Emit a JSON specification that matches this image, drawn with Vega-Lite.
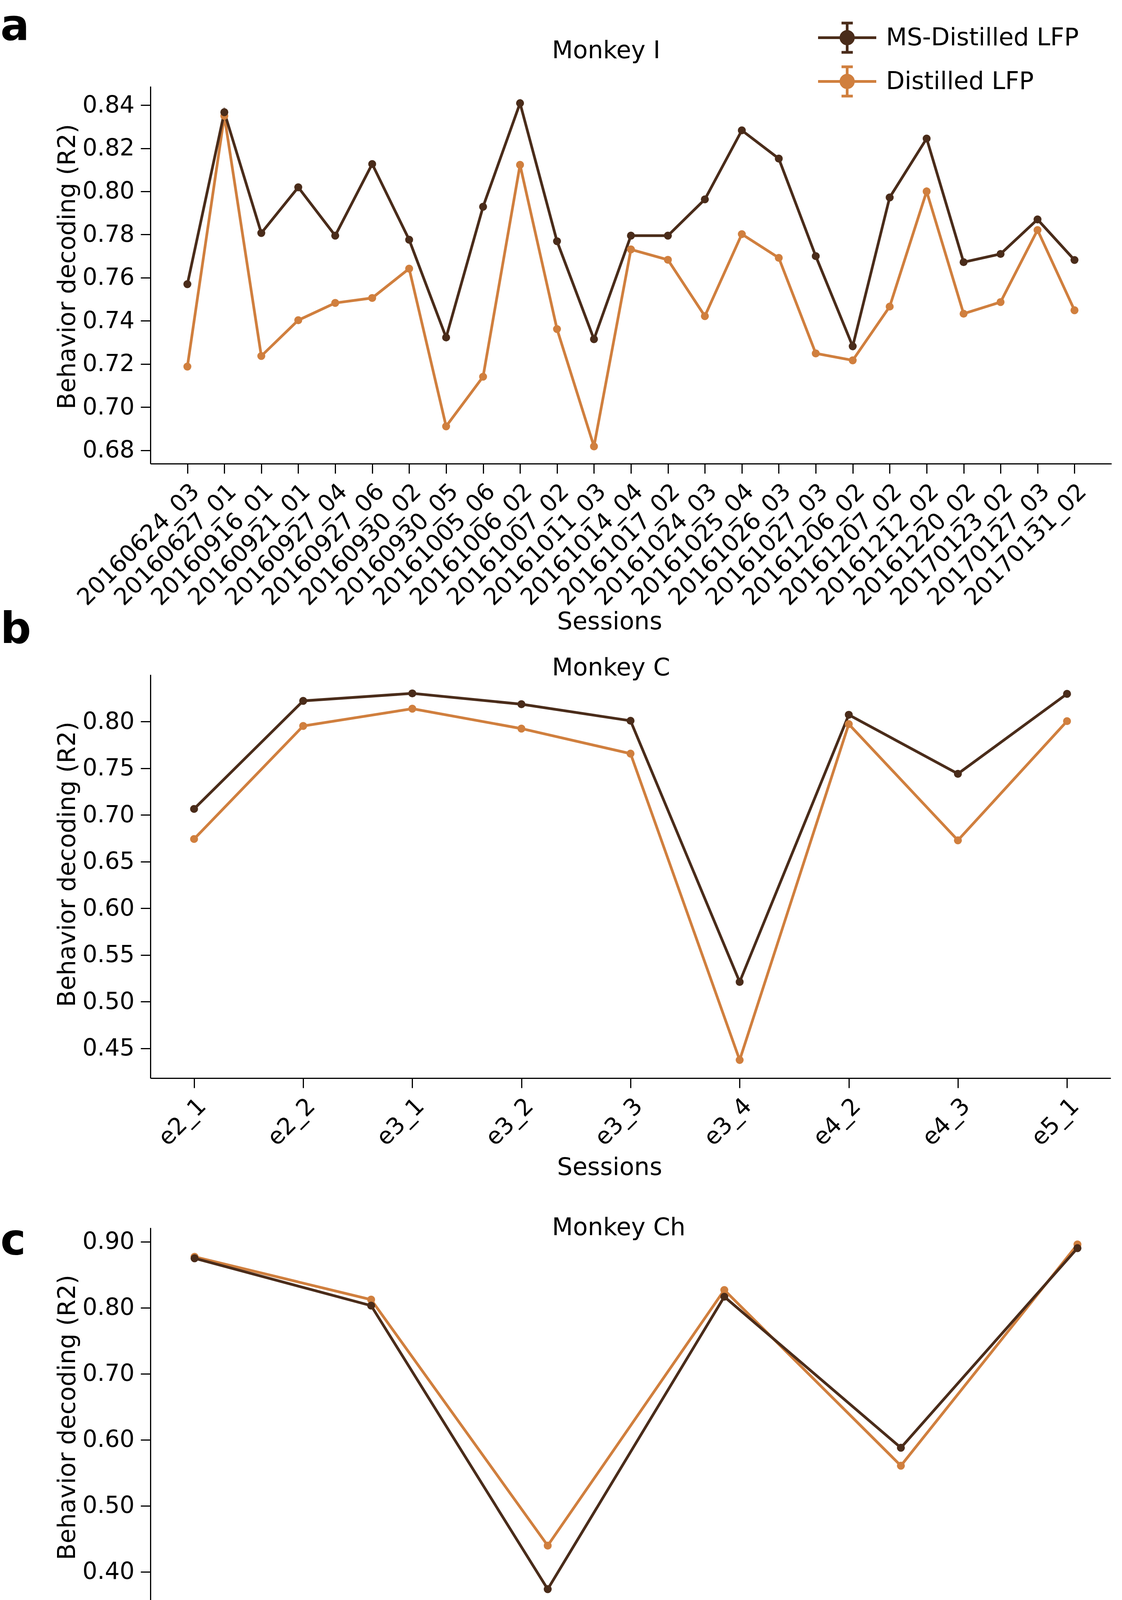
{
  "$schema": "https://vega.github.io/schema/vega-lite/v6.json",
  "background": "white",
  "padding": {"left": 0, "top": 14, "right": 0, "bottom": 17},
  "config": {
    "font": "DejaVu Sans",
    "view": {"stroke": null},
    "axis": {"domainColor": "black", "domainWidth": 3, "tickColor": "black", "tickWidth": 3, "tickSize": 25, "labelColor": "black", "labelFontSize": 60, "labelFont": "DejaVu Sans", "titleFont": "DejaVu Sans", "titleFontSize": 62, "titleFontWeight": "normal", "titleColor": "black", "grid": false, "labelPadding": 16, "labelLimit": 0},
    "axisY": {"titleX": -194, "titleBaseline": "alphabetic", "titleAlign": "center"},
    "title": {"font": "DejaVu Sans", "color": "black"}
  },
  "datasets": {
    "a": [
      {"session": "20160624_03", "series": "Distilled LFP", "r2": 0.7188},
      {"session": "20160627_01", "series": "Distilled LFP", "r2": 0.835},
      {"session": "20160916_01", "series": "Distilled LFP", "r2": 0.7237},
      {"session": "20160921_01", "series": "Distilled LFP", "r2": 0.7403},
      {"session": "20160927_04", "series": "Distilled LFP", "r2": 0.7483},
      {"session": "20160927_06", "series": "Distilled LFP", "r2": 0.7506},
      {"session": "20160930_02", "series": "Distilled LFP", "r2": 0.7642},
      {"session": "20160930_05", "series": "Distilled LFP", "r2": 0.6911},
      {"session": "20161005_06", "series": "Distilled LFP", "r2": 0.7141},
      {"session": "20161006_02", "series": "Distilled LFP", "r2": 0.8123},
      {"session": "20161007_02", "series": "Distilled LFP", "r2": 0.7362},
      {"session": "20161011_03", "series": "Distilled LFP", "r2": 0.6818},
      {"session": "20161014_04", "series": "Distilled LFP", "r2": 0.7731},
      {"session": "20161017_02", "series": "Distilled LFP", "r2": 0.7683},
      {"session": "20161024_03", "series": "Distilled LFP", "r2": 0.7422},
      {"session": "20161025_04", "series": "Distilled LFP", "r2": 0.7802},
      {"session": "20161026_03", "series": "Distilled LFP", "r2": 0.7692},
      {"session": "20161027_03", "series": "Distilled LFP", "r2": 0.7249},
      {"session": "20161206_02", "series": "Distilled LFP", "r2": 0.7217},
      {"session": "20161207_02", "series": "Distilled LFP", "r2": 0.7466},
      {"session": "20161212_02", "series": "Distilled LFP", "r2": 0.8},
      {"session": "20161220_02", "series": "Distilled LFP", "r2": 0.7433},
      {"session": "20170123_02", "series": "Distilled LFP", "r2": 0.7487},
      {"session": "20170127_03", "series": "Distilled LFP", "r2": 0.7821},
      {"session": "20170131_02", "series": "Distilled LFP", "r2": 0.7449},
      {"session": "20160624_03", "series": "MS-Distilled LFP", "r2": 0.757},
      {"session": "20160627_01", "series": "MS-Distilled LFP", "r2": 0.8367},
      {"session": "20160916_01", "series": "MS-Distilled LFP", "r2": 0.7807},
      {"session": "20160921_01", "series": "MS-Distilled LFP", "r2": 0.8019},
      {"session": "20160927_04", "series": "MS-Distilled LFP", "r2": 0.7795},
      {"session": "20160927_06", "series": "MS-Distilled LFP", "r2": 0.8127},
      {"session": "20160930_02", "series": "MS-Distilled LFP", "r2": 0.7776},
      {"session": "20160930_05", "series": "MS-Distilled LFP", "r2": 0.7323},
      {"session": "20161005_06", "series": "MS-Distilled LFP", "r2": 0.7929},
      {"session": "20161006_02", "series": "MS-Distilled LFP", "r2": 0.8409},
      {"session": "20161007_02", "series": "MS-Distilled LFP", "r2": 0.7769},
      {"session": "20161011_03", "series": "MS-Distilled LFP", "r2": 0.7315},
      {"session": "20161014_04", "series": "MS-Distilled LFP", "r2": 0.7795},
      {"session": "20161017_02", "series": "MS-Distilled LFP", "r2": 0.7795},
      {"session": "20161024_03", "series": "MS-Distilled LFP", "r2": 0.7963},
      {"session": "20161025_04", "series": "MS-Distilled LFP", "r2": 0.8283},
      {"session": "20161026_03", "series": "MS-Distilled LFP", "r2": 0.8152},
      {"session": "20161027_03", "series": "MS-Distilled LFP", "r2": 0.77},
      {"session": "20161206_02", "series": "MS-Distilled LFP", "r2": 0.7282},
      {"session": "20161207_02", "series": "MS-Distilled LFP", "r2": 0.7972},
      {"session": "20161212_02", "series": "MS-Distilled LFP", "r2": 0.8245},
      {"session": "20161220_02", "series": "MS-Distilled LFP", "r2": 0.7672},
      {"session": "20170123_02", "series": "MS-Distilled LFP", "r2": 0.771},
      {"session": "20170127_03", "series": "MS-Distilled LFP", "r2": 0.787},
      {"session": "20170131_02", "series": "MS-Distilled LFP", "r2": 0.7682}
    ],
    "b": [
      {"session": "e2_1", "series": "Distilled LFP", "r2": 0.6742},
      {"session": "e2_2", "series": "Distilled LFP", "r2": 0.7952},
      {"session": "e3_1", "series": "Distilled LFP", "r2": 0.8137},
      {"session": "e3_2", "series": "Distilled LFP", "r2": 0.7924},
      {"session": "e3_3", "series": "Distilled LFP", "r2": 0.7656},
      {"session": "e3_4", "series": "Distilled LFP", "r2": 0.4376},
      {"session": "e4_2", "series": "Distilled LFP", "r2": 0.7972},
      {"session": "e4_3", "series": "Distilled LFP", "r2": 0.6728},
      {"session": "e5_1", "series": "Distilled LFP", "r2": 0.8004},
      {"session": "e2_1", "series": "MS-Distilled LFP", "r2": 0.7064},
      {"session": "e2_2", "series": "MS-Distilled LFP", "r2": 0.8221},
      {"session": "e3_1", "series": "MS-Distilled LFP", "r2": 0.8301},
      {"session": "e3_2", "series": "MS-Distilled LFP", "r2": 0.8185},
      {"session": "e3_3", "series": "MS-Distilled LFP", "r2": 0.8008},
      {"session": "e3_4", "series": "MS-Distilled LFP", "r2": 0.5212},
      {"session": "e4_2", "series": "MS-Distilled LFP", "r2": 0.8072},
      {"session": "e4_3", "series": "MS-Distilled LFP", "r2": 0.744},
      {"session": "e5_1", "series": "MS-Distilled LFP", "r2": 0.8296}
    ],
    "c": [
      {"session": "20150313", "series": "Distilled LFP", "r2": 0.8772},
      {"session": "20150319", "series": "Distilled LFP", "r2": 0.8124},
      {"session": "20150629", "series": "Distilled LFP", "r2": 0.4398},
      {"session": "20150630", "series": "Distilled LFP", "r2": 0.827},
      {"session": "20161005", "series": "Distilled LFP", "r2": 0.5608},
      {"session": "20161014", "series": "Distilled LFP", "r2": 0.896},
      {"session": "20150313", "series": "MS-Distilled LFP", "r2": 0.875},
      {"session": "20150319", "series": "MS-Distilled LFP", "r2": 0.8033},
      {"session": "20150629", "series": "MS-Distilled LFP", "r2": 0.3738},
      {"session": "20150630", "series": "MS-Distilled LFP", "r2": 0.8168},
      {"session": "20161005", "series": "MS-Distilled LFP", "r2": 0.588},
      {"session": "20161014", "series": "MS-Distilled LFP", "r2": 0.8904}
    ],
    "d": [
      {"session": "20171127", "series": "Distilled LFP", "r2": 0.8711},
      {"session": "20171128", "series": "Distilled LFP", "r2": 0.9013},
      {"session": "20171201", "series": "Distilled LFP", "r2": 0.9215},
      {"session": "20171204", "series": "Distilled LFP", "r2": 0.9234},
      {"session": "20171207", "series": "Distilled LFP", "r2": 0.9235},
      {"session": "20171127", "series": "MS-Distilled LFP", "r2": 0.8699},
      {"session": "20171128", "series": "MS-Distilled LFP", "r2": 0.9063},
      {"session": "20171201", "series": "MS-Distilled LFP", "r2": 0.9187},
      {"session": "20171204", "series": "MS-Distilled LFP", "r2": 0.9171},
      {"session": "20171207", "series": "MS-Distilled LFP", "r2": 0.9242}
    ],
    "e": [
      {"session": "20170731", "series": "Distilled LFP", "r2": 0.8813},
      {"session": "20170803", "series": "Distilled LFP", "r2": 0.8587},
      {"session": "20170917", "series": "Distilled LFP", "r2": 0.8815},
      {"session": "20170731", "series": "MS-Distilled LFP", "r2": 0.872},
      {"session": "20170803", "series": "MS-Distilled LFP", "r2": 0.8554},
      {"session": "20170917", "series": "MS-Distilled LFP", "r2": 0.9023}
    ]
  },
  "spacing": 61,
  "vconcat": [
    {
      "spacing": 69,
      "vconcat": [
        {
          "spacing": 93,
          "vconcat": [
            {
              "spacing": -64,
              "vconcat": [
                {
                  "title": {"text": "a", "anchor": "start", "frame": "bounds", "dx": -140, "offset": -113, "baseline": "alphabetic", "fontSize": 110, "fontWeight": "bold"},
                  "vconcat": [
                    {
                      "width": 2460, "height": 966,
                      "title": {"text": "Monkey I", "anchor": "start", "frame": "group", "dx": 1028, "offset": 10, "baseline": "alphabetic", "fontSize": 62, "fontWeight": "normal"},
                      "data": {"name": "a"},
                      "encoding": {
                        "x": {"field": "session", "type": "ordinal", "sort": null, "scale": {"type": "point", "padding": 1.2}, "axis": {"title": "Sessions", "labelAngle": -45, "labelAlign": "right", "labelBaseline": "top", "labelOverlap": false, "titleX": 1175, "titleY": 423, "titleBaseline": "alphabetic"}},
                        "y": {"field": "r2", "type": "quantitative", "scale": {"domain": [0.6738, 0.8487], "nice": false, "zero": false}, "axis": {"title": "Behavior decoding (R2)", "titleY": 461, "values": [0.68, 0.70, 0.72, 0.74, 0.76, 0.78, 0.80, 0.82, 0.84], "format": ".2f"}},
                        "color": {"field": "series", "type": "nominal", "scale": {"domain": ["MS-Distilled LFP", "Distilled LFP"], "range": ["#4a2c1a", "#d07f3e"]}, "legend": {"title": null, "orient": "none", "legendX": 1742, "legendY": -166, "padding": 0, "symbolType": "M -1.96 0 L 1.96 0 M 0 -0.99 L 0 0.99 M -0.38 -0.99 L 0.38 -0.99 M -0.38 0.99 L 0.38 0.99 M 0.42 0 A 0.42 0.42 0 1 1 -0.42 0 A 0.42 0.42 0 1 1 0.42 0 Z", "symbolSize": 5776, "symbolStrokeWidth": 7, "symbolOpacity": 1, "labelFontSize": 62, "labelFont": "DejaVu Sans", "labelColor": "black", "labelOffset": 58, "labelLimit": 0, "rowPadding": 7, "encode": {"symbols": {"update": {"fill": {"scale": "color", "field": "value"}, "stroke": {"scale": "color", "field": "value"}}}}}}
                      },
                      "layer": [
                        {"mark": {"type": "line", "strokeWidth": 7}},
                        {"mark": {"type": "point", "filled": true, "size": 415, "opacity": 1}}
                      ]
                    }
                  ]
                },
                {
                  "title": {"text": "b", "anchor": "start", "frame": "bounds", "dx": -140, "offset": -77, "baseline": "alphabetic", "fontSize": 110, "fontWeight": "bold"},
                  "vconcat": [
                    {
                      "width": 2458, "height": 1033,
                      "title": {"text": "Monkey C", "anchor": "start", "frame": "group", "dx": 1028, "offset": -64, "baseline": "alphabetic", "fontSize": 62, "fontWeight": "normal"},
                      "data": {"name": "b"},
                      "encoding": {
                        "x": {"field": "session", "type": "ordinal", "sort": null, "scale": {"type": "point", "padding": 0.4}, "axis": {"title": "Sessions", "labelAngle": -45, "labelAlign": "right", "labelBaseline": "top", "labelOverlap": false, "titleX": 1175, "titleY": 247, "titleBaseline": "alphabetic"}},
                        "y": {"field": "r2", "type": "quantitative", "scale": {"domain": [0.4182, 0.8502], "nice": false, "zero": false}, "axis": {"title": "Behavior decoding (R2)", "titleY": 485, "values": [0.45, 0.50, 0.55, 0.60, 0.65, 0.70, 0.75, 0.80], "format": ".2f"}},
                        "color": {"field": "series", "type": "nominal", "scale": {"domain": ["MS-Distilled LFP", "Distilled LFP"], "range": ["#4a2c1a", "#d07f3e"]}, "legend": {"title": null, "orient": "none", "legendX": 1742, "legendY": -166, "padding": 0, "symbolType": "M -1.96 0 L 1.96 0 M 0 -0.99 L 0 0.99 M -0.38 -0.99 L 0.38 -0.99 M -0.38 0.99 L 0.38 0.99 M 0.42 0 A 0.42 0.42 0 1 1 -0.42 0 A 0.42 0.42 0 1 1 0.42 0 Z", "symbolSize": 5776, "symbolStrokeWidth": 7, "symbolOpacity": 1, "labelFontSize": 62, "labelFont": "DejaVu Sans", "labelColor": "black", "labelOffset": 58, "labelLimit": 0, "rowPadding": 7, "encode": {"symbols": {"update": {"fill": {"scale": "color", "field": "value"}, "stroke": {"scale": "color", "field": "value"}}}}}}
                      },
                      "layer": [
                        {"mark": {"type": "line", "strokeWidth": 7}},
                        {"mark": {"type": "point", "filled": true, "size": 415, "opacity": 1}}
                      ]
                    }
                  ]
                }
              ]
            },
            {
              "title": {"text": "c", "anchor": "start", "frame": "bounds", "dx": -140, "offset": -209, "baseline": "alphabetic", "fontSize": 110, "fontWeight": "bold"},
              "vconcat": [
                {
                  "width": 2486, "height": 968,
                  "title": {"text": "Monkey Ch", "anchor": "start", "frame": "group", "dx": 1028, "offset": -81, "baseline": "alphabetic", "fontSize": 62, "fontWeight": "normal"},
                  "data": {"name": "c"},
                  "encoding": {
                    "x": {"field": "session", "type": "ordinal", "sort": null, "scale": {"type": "point", "padding": 0.25}, "axis": {"title": "Sessions", "labelAngle": -45, "labelAlign": "right", "labelBaseline": "top", "labelOverlap": false, "titleX": 1178, "titleY": 350, "titleBaseline": "alphabetic"}},
                    "y": {"field": "r2", "type": "quantitative", "scale": {"domain": [0.3485, 0.9213], "nice": false, "zero": false}, "axis": {"title": "Behavior decoding (R2)", "titleY": 485, "values": [0.4, 0.5, 0.6, 0.7, 0.8, 0.9], "format": ".2f"}},
                    "color": {"field": "series", "type": "nominal", "scale": {"domain": ["MS-Distilled LFP", "Distilled LFP"], "range": ["#4a2c1a", "#d07f3e"]}, "legend": {"title": null, "orient": "none", "legendX": 1742, "legendY": -166, "padding": 0, "symbolType": "M -1.96 0 L 1.96 0 M 0 -0.99 L 0 0.99 M -0.38 -0.99 L 0.38 -0.99 M -0.38 0.99 L 0.38 0.99 M 0.42 0 A 0.42 0.42 0 1 1 -0.42 0 A 0.42 0.42 0 1 1 0.42 0 Z", "symbolSize": 5776, "symbolStrokeWidth": 7, "symbolOpacity": 1, "labelFontSize": 62, "labelFont": "DejaVu Sans", "labelColor": "black", "labelOffset": 58, "labelLimit": 0, "rowPadding": 7, "encode": {"symbols": {"update": {"fill": {"scale": "color", "field": "value"}, "stroke": {"scale": "color", "field": "value"}}}}}}
                  },
                  "layer": [
                    {"mark": {"type": "line", "strokeWidth": 7}},
                    {"mark": {"type": "point", "filled": true, "size": 415, "opacity": 1}}
                  ]
                }
              ]
            }
          ]
        },
        {
          "title": {"text": "d", "anchor": "start", "frame": "bounds", "dx": -140, "offset": -243, "baseline": "alphabetic", "fontSize": 110, "fontWeight": "bold"},
          "vconcat": [
            {
              "width": 2459, "height": 999,
              "title": {"text": "Monkey H", "anchor": "start", "frame": "group", "dx": 1032, "offset": -35, "baseline": "alphabetic", "fontSize": 62, "fontWeight": "normal"},
              "data": {"name": "d"},
              "encoding": {
                "x": {"field": "session", "type": "ordinal", "sort": null, "scale": {"type": "point", "padding": 0.2}, "axis": {"title": "Sessions", "labelAngle": -45, "labelAlign": "right", "labelBaseline": "top", "labelOverlap": false, "titleX": 1173, "titleY": 379, "titleBaseline": "alphabetic"}},
                "y": {"field": "r2", "type": "quantitative", "scale": {"domain": [0.86719, 0.92694], "nice": false, "zero": false}, "axis": {"title": "Behavior decoding (R2)", "titleY": 509, "values": [0.87, 0.88, 0.89, 0.90, 0.91, 0.92], "format": ".2f"}},
                "color": {"field": "series", "type": "nominal", "scale": {"domain": ["MS-Distilled LFP", "Distilled LFP"], "range": ["#4a2c1a", "#d07f3e"]}, "legend": {"title": null, "orient": "none", "legendX": 1742, "legendY": -166, "padding": 0, "symbolType": "M -1.96 0 L 1.96 0 M 0 -0.99 L 0 0.99 M -0.38 -0.99 L 0.38 -0.99 M -0.38 0.99 L 0.38 0.99 M 0.42 0 A 0.42 0.42 0 1 1 -0.42 0 A 0.42 0.42 0 1 1 0.42 0 Z", "symbolSize": 5776, "symbolStrokeWidth": 7, "symbolOpacity": 1, "labelFontSize": 62, "labelFont": "DejaVu Sans", "labelColor": "black", "labelOffset": 58, "labelLimit": 0, "rowPadding": 7, "encode": {"symbols": {"update": {"fill": {"scale": "color", "field": "value"}, "stroke": {"scale": "color", "field": "value"}}}}}}
              },
              "layer": [
                {"mark": {"type": "line", "strokeWidth": 7}},
                {"mark": {"type": "point", "filled": true, "size": 415, "opacity": 1}}
              ]
            }
          ]
        }
      ]
    },
    {
      "title": {"text": "e", "anchor": "start", "frame": "bounds", "dx": -140, "offset": -193, "baseline": "alphabetic", "fontSize": 110, "fontWeight": "bold"},
      "vconcat": [
        {
          "width": 2458, "height": 982,
          "title": {"text": "Monkey La", "anchor": "start", "frame": "group", "dx": 1030, "offset": -40, "baseline": "alphabetic", "fontSize": 62, "fontWeight": "normal"},
          "data": {"name": "e"},
          "encoding": {
            "x": {"field": "session", "type": "ordinal", "sort": null, "scale": {"type": "point", "padding": 0.1}, "axis": {"title": "Sessions", "labelAngle": -45, "labelAlign": "right", "labelBaseline": "top", "labelOverlap": false, "titleX": 1170, "titleY": 372, "titleBaseline": "alphabetic"}},
            "y": {"field": "r2", "type": "quantitative", "scale": {"domain": [0.85298, 0.9048], "nice": false, "zero": false}, "axis": {"title": "Behavior decoding (R2)", "titleY": 516, "values": [0.86, 0.87, 0.88, 0.89, 0.90], "format": ".2f"}},
            "color": {"field": "series", "type": "nominal", "scale": {"domain": ["MS-Distilled LFP", "Distilled LFP"], "range": ["#4a2c1a", "#d07f3e"]}, "legend": {"title": null, "orient": "none", "legendX": 1742, "legendY": -166, "padding": 0, "symbolType": "M -1.96 0 L 1.96 0 M 0 -0.99 L 0 0.99 M -0.38 -0.99 L 0.38 -0.99 M -0.38 0.99 L 0.38 0.99 M 0.42 0 A 0.42 0.42 0 1 1 -0.42 0 A 0.42 0.42 0 1 1 0.42 0 Z", "symbolSize": 5776, "symbolStrokeWidth": 7, "symbolOpacity": 1, "labelFontSize": 62, "labelFont": "DejaVu Sans", "labelColor": "black", "labelOffset": 58, "labelLimit": 0, "rowPadding": 7, "encode": {"symbols": {"update": {"fill": {"scale": "color", "field": "value"}, "stroke": {"scale": "color", "field": "value"}}}}}}
          },
          "layer": [
            {"mark": {"type": "line", "strokeWidth": 7}},
            {"mark": {"type": "point", "filled": true, "size": 415, "opacity": 1}}
          ]
        }
      ]
    }
  ]
}
